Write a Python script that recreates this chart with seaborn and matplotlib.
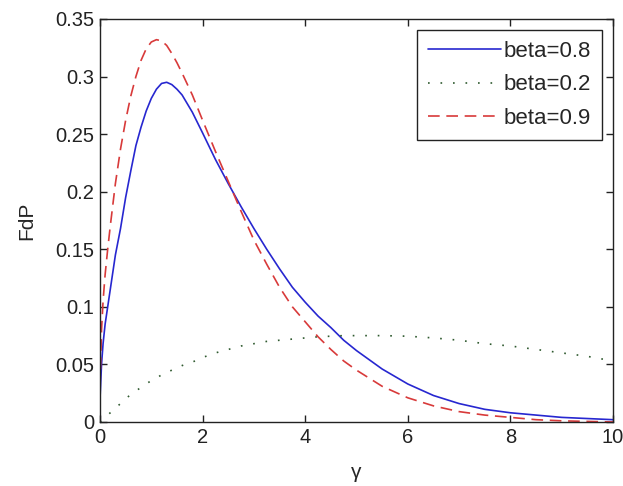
import numpy as np
import pandas as pd
import seaborn as sns
import matplotlib
matplotlib.use("Agg")
import matplotlib.pyplot as plt

# values
gamma = [0, 0.03, 0.06, 0.1, 0.15, 0.2,
         0.3, 0.4, 0.5, 0.6, 0.7, 0.8, 0.9, 1.0, 1.1, 1.2, 1.3, 1.4, 1.5, 1.6,
         1.8, 2.0,
         2.25, 2.5, 2.75, 3.0, 3.25, 3.5, 3.75, 4.0, 4.25, 4.5, 4.75, 5.0,
         5.5, 6.0, 6.5, 7.0, 7.5, 8.0, 8.5, 9.0, 9.5, 10.0]

beta_08 = [0.02, 0.05, 0.068, 0.085, 0.10, 0.115,
           0.145, 0.168, 0.195, 0.218, 0.240, 0.256, 0.270, 0.281, 0.289,
           0.294, 0.295, 0.293, 0.289, 0.284,
           0.269, 0.251,
           0.228, 0.207, 0.187, 0.168, 0.150, 0.133, 0.117, 0.104, 0.092,
           0.082, 0.071, 0.062,
           0.046, 0.033, 0.023, 0.016, 0.011, 0.008, 0.006, 0.004, 0.003, 0.002]

beta_02 = [0.0, 0.001, 0.002, 0.004, 0.006, 0.008,
           0.012, 0.016, 0.020, 0.024, 0.027, 0.030, 0.033, 0.036, 0.038,
           0.041, 0.043, 0.045, 0.047, 0.049,
           0.052, 0.056,
           0.060, 0.063, 0.066, 0.068, 0.070, 0.071, 0.072, 0.073, 0.074,
           0.0745, 0.075, 0.075,
           0.075, 0.0745, 0.073, 0.071, 0.068, 0.066, 0.063, 0.060, 0.057, 0.053]

beta_09 = [0.03, 0.08, 0.105, 0.128, 0.15, 0.17,
           0.207, 0.237, 0.262, 0.283, 0.300, 0.314, 0.324, 0.330, 0.332,
           0.331, 0.327, 0.320, 0.312, 0.303,
           0.284, 0.262,
           0.235, 0.209, 0.183, 0.158, 0.137, 0.117, 0.100, 0.087, 0.074,
           0.063, 0.053, 0.045,
           0.031, 0.021, 0.014, 0.009, 0.006, 0.004, 0.002, 0.001, 0.0005, 0.0]

labels = ["beta=0.8", "beta=0.2", "beta=0.9"]

df = pd.concat([
    pd.DataFrame({"gamma": gamma, "FdP": beta_08, "curve": labels[0]}),
    pd.DataFrame({"gamma": gamma, "FdP": beta_02, "curve": labels[1]}),
    pd.DataFrame({"gamma": gamma, "FdP": beta_09, "curve": labels[2]}),
])

sns.set_style("ticks")
plt.rcParams["font.family"] = ["Liberation Sans", "DejaVu Sans"]

fig = plt.figure(figsize=(6.23, 4.86), dpi=100)
ax = fig.add_axes([0.1605, 0.1317, 0.8235, 0.8293])

palette = {labels[0]: "#2727d0", labels[1]: "#2f5a2f", labels[2]: "#d83a3a"}
dashes = {labels[0]: "", labels[1]: (1, 6.5), labels[2]: (7, 4)}

sns.lineplot(data=df, x="gamma", y="FdP", hue="curve", style="curve",
             palette=palette, dashes=dashes, linewidth=1.2, ax=ax)

ax.set_xlim(0, 10)
ax.set_ylim(0, 0.35)
ax.set_xticks(np.arange(0, 11, 2))
ax.set_yticks([0, 0.05, 0.1, 0.15, 0.2, 0.25, 0.3, 0.35])
ax.set_yticklabels(["0", "0.05", "0.1", "0.15", "0.2", "0.25", "0.3", "0.35"])
ax.tick_params(direction="in", top=True, right=True, labelsize=14.5,
               length=5, width=1, colors="#222222", pad=4)
for s in ax.spines.values():
    s.set_color("#222222")
    s.set_linewidth(1)

ax.set_xlabel("γ", fontsize=15, labelpad=12)
ax.set_ylabel("FdP", fontsize=15, labelpad=14)

leg = ax.legend(loc="upper right", fontsize=16, frameon=True, fancybox=False,
                edgecolor="#222222", framealpha=1, handlelength=3.3,
                handletextpad=0.1, borderpad=0.5, labelspacing=0.55,
                borderaxespad=0.5)
leg.get_frame().set_linewidth(1)

fig.savefig("out.png", dpi=100)
